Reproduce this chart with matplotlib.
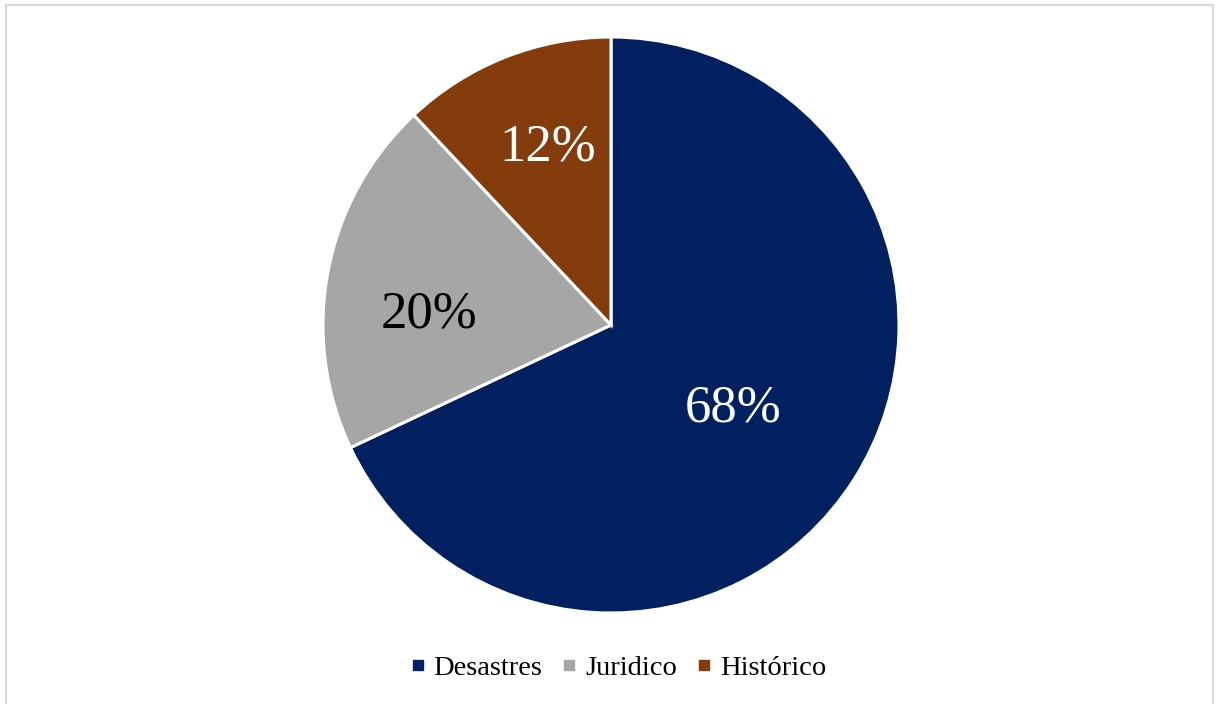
import matplotlib.pyplot as plt
import matplotlib.patches as patches
from matplotlib.lines import Line2D

# Share of cases per category
categories = ['Desastres', 'Juridico', 'Histórico']
shares = [68, 20, 12]
colors = ['#002060', '#a6a6a6', '#843c0c']
label_colors = ['white', 'black', 'white']
# label centres in radius units
label_pos = [(0.424, -0.29), (-0.632, 0.035), (-0.22, 0.615)]

plt.rcParams['font.family'] = ['Liberation Serif', 'DejaVu Serif']

W, H = 1215, 704
fig = plt.figure(figsize=(W / 100, H / 100), dpi=100)

# pie centre ~ (611, 325) px, radius ~ 288 px
cx, cy, r = 611, 325, 288
ax = fig.add_axes([(cx - r) / W, (H - cy - r) / H, 2 * r / W, 2 * r / H])
wedges, texts, autotexts = ax.pie(
    shares, colors=colors, startangle=90, counterclock=False,
    autopct='%d%%', pctdistance=0.6,
    wedgeprops=dict(edgecolor='white', linewidth=2.2),
    textprops=dict(fontsize=38))
ax.set_xlim(-1, 1)
ax.set_ylim(-1, 1)
ax.set_aspect('equal')

for t, c, p in zip(autotexts, label_colors, label_pos):
    t.set_position(p)
    t.set_color(c)

handles = [Line2D([], [], marker='s', linestyle='none', markersize=7,
                  markerfacecolor=c, markeredgecolor=c) for c in colors]
fig.legend(handles, categories, loc='center', bbox_to_anchor=(0.506, 0.051),
           ncol=3, frameon=False, fontsize=20.5, handletextpad=0.05,
           columnspacing=0.45, handlelength=1.0)

# light grey frame round the chart
fig.patches.append(patches.Rectangle((6 / W, -0.02), (W - 8) / W, 1.02 - 5 / H,
                                     transform=fig.transFigure, fill=False,
                                     edgecolor='#d9d9d9', linewidth=1.6))

fig.savefig('out.png', dpi=100, facecolor='white')
